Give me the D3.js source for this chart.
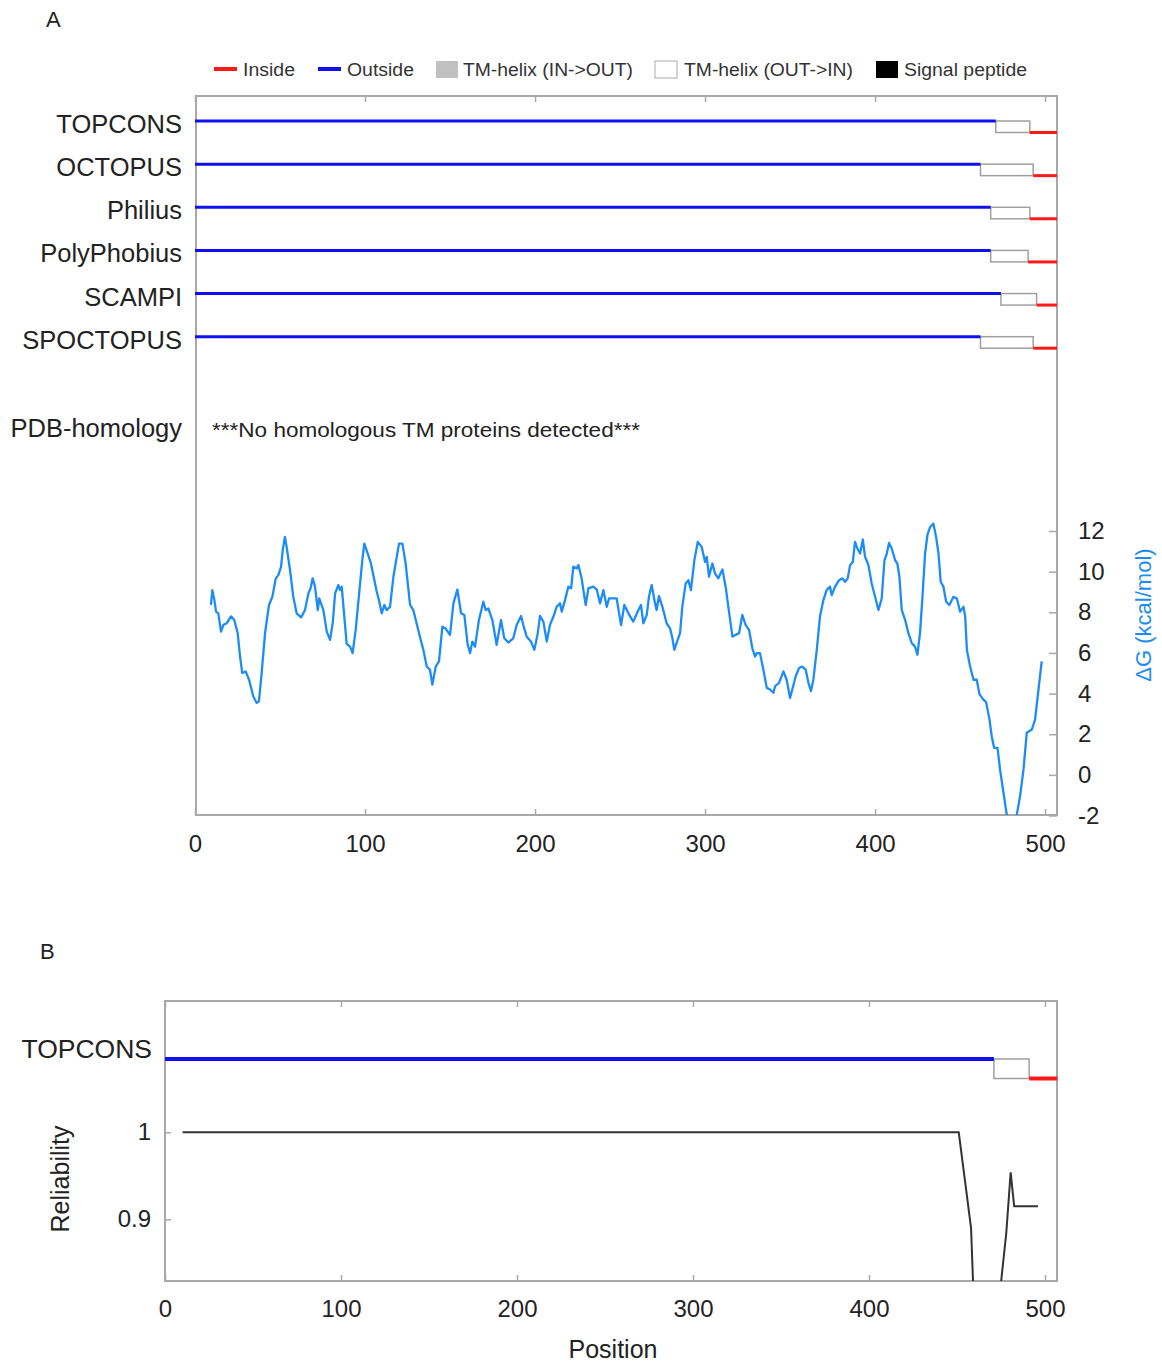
<!DOCTYPE html>
<html>
<head>
<meta charset="utf-8">
<script src="https://cdn.jsdelivr.net/npm/d3@7"></script>
<style>
  body { margin: 0; background: #fff; }
  svg text { font-family: "Liberation Sans", Arial, sans-serif; fill: #222; }
  .frame { fill: none; stroke: #a8a8a8; stroke-width: 2; }
  .tick line { stroke: #a8a8a8; stroke-width: 1.5; }
  .domain { display: none; }
</style>
</head>
<body>
<div id="chart"></div>
<script>
// ---- data
var seqLength = 507;
var methods = ['TOPCONS', 'OCTOPUS', 'Philius', 'PolyPhobius', 'SCAMPI', 'SPOCTOPUS'];
var tmStart = [471, 462, 468, 468, 474, 462];
var tmEnd = [491, 493, 491, 490, 495, 493];

var legendLabels = ['Inside', 'Outside', 'TM-helix (IN->OUT)', 'TM-helix (OUT->IN)', 'Signal peptide'];

var xTicks = [0, 100, 200, 300, 400, 500];
var dgTicks = [-2, 0, 2, 4, 6, 8, 10, 12];
var relTicks = [0.9, 1];

var dgPos = [9.4, 10.2, 11.4, 12.4, 13.7, 15.3, 16.7, 18.6, 21.2, 23.1, 25.1, 26.5, 27.8, 29.8, 31.8, 34.3, 36.3, 37.6, 39.2, 41.2,
  43.5, 45.5, 47.5, 49, 50.6, 51.6, 52.9, 53.9, 55.9, 57.8, 59.8, 62.4, 64.7, 66.7, 68, 69.2, 70.6, 72.2, 73.1, 75.5,
  77.5, 79.4, 81, 82.4, 84.3, 85.3, 86.3, 87.8, 89.2, 91.2, 92.7, 94.5, 97.1, 98.4, 99.6, 101.6, 103.5, 105.5, 106.9, 108.2,
  109.8, 111.4, 112.7, 114.7, 116.7, 118, 120, 122, 123.9, 126.5, 128.4, 132.3, 134.3, 136.3, 138.2, 139.6, 141.6, 143.5, 145.5, 147.4,
  150, 152, 154.3, 156.5, 158.4, 160.4, 161.8, 163.1, 164.7, 167, 169.6, 171, 172.5, 174.9, 177.4, 180, 181.9, 184.3, 187.2, 189.2,
  191.8, 193.1, 195.1, 197.6, 199.6, 201.6, 202.9, 204.9, 206.9, 208.8, 210.8, 212.7, 214.7, 215.7, 217.6, 219.6, 221.2, 222.5, 224.5, 225.5,
  227.4, 229.8, 231.4, 234.3, 236.3, 238.2, 240.2, 242.2, 243.5, 245.5, 248, 250.6, 252.5, 254.9, 257.8, 260.8, 262.3, 263.7, 265.7, 267,
  268.6, 270.2, 271.5, 272.9, 274.9, 277.4, 279.4, 280.8, 281.9, 283.9, 285.3, 286.6, 288.6, 290.2, 291.7, 293.7, 295.7, 298, 300, 301,
  302.3, 304.3, 305.9, 307.8, 310.2, 312.1, 313.7, 316.1, 318, 320, 321.9, 323.9, 325.9, 327.8, 329.4, 330.4, 332.3, 334.3, 336.3, 338.2,
  340.2, 341.2, 343.5, 346.1, 348, 350, 351.3, 353.3, 355.3, 357.2, 359.2, 360.8, 362.3, 363.7, 365.7, 367.6, 369.6, 371.5, 373.5, 374.5,
  376.5, 378.8, 380.8, 382.3, 383.9, 385.3, 386.9, 388.2, 389.6, 391.2, 392.8, 394.1, 396.1, 398, 400, 402, 403.9, 405.5, 406.9, 408.2,
  409.8, 411.8, 413.1, 414.3, 415.7, 417.7, 419.6, 421.6, 423.5, 424.9, 426.5, 428, 429.4, 430.8, 432.4, 434.3, 435.9, 437.3, 438.6, 440.2,
  441.8, 443.7, 446.1, 448.1, 450, 452, 453, 454, 455.9, 457.9, 459.8, 461.4, 463.7, 465.3, 467.3, 468.6, 470, 472, 473.5, 475.5,
  477.5, 480, 483.3, 485.3, 487.3, 489.2, 492.2, 494.1, 496.1, 498];
var dgVal = [8.36, 9.09, 8.6, 8.03, 7.95, 7.05, 7.38, 7.46, 7.8, 7.62, 6.97, 5.82, 5.01, 5.09, 4.68, 3.86, 3.54, 3.62, 5.01, 6.97,
  8.36, 8.76, 9.67, 9.83, 10.24, 11.06, 11.71, 11.22, 10.07, 8.76, 7.95, 7.75, 8.11, 8.93, 9.18, 9.67, 9.26, 8.11, 8.68, 8.11,
  7.05, 6.64, 7.46, 8.93, 9.34, 9.09, 9.26, 7.8, 6.45, 6.31, 5.99, 7.13, 9.42, 10.56, 11.38, 10.89, 10.4, 9.58, 9.01, 8.6,
  7.95, 8.36, 8.11, 8.27, 9.75, 10.4, 11.38, 11.38, 10.4, 8.36, 8.11, 6.8, 6.15, 5.33, 5.17, 4.44, 5.33, 5.58, 7.29, 7.2,
  6.89, 8.44, 9.12, 7.95, 7.87, 6.4, 5.99, 6.56, 6.31, 7.62, 8.52, 8.11, 8.19, 7.62, 6.4, 7.62, 6.72, 6.51, 6.72, 7.37,
  7.82, 7.37, 6.8, 6.56, 6.15, 6.97, 7.82, 7.54, 6.56, 7.38, 7.79, 8.27, 8.44, 8.03, 8.6, 9.26, 9.18, 10.24, 10.16, 10.32,
  9.67, 8.36, 9.18, 9.26, 9.12, 8.44, 9.09, 8.27, 8.68, 8.68, 8.68, 7.37, 8.36, 7.95, 7.54, 8.11, 8.36, 7.46, 7.87, 8.76,
  9.34, 8.6, 8.11, 8.8, 8.27, 7.46, 7.21, 6.72, 6.15, 6.64, 6.97, 8.27, 9.42, 9.58, 9.09, 10.56, 11.46, 11.22, 10.48, 10.73,
  9.75, 10.4, 9.9, 9.67, 10.11, 9.26, 8.27, 6.8, 6.89, 6.97, 7.87, 7.37, 7.13, 6.23, 5.82, 5.99, 5.99, 5.17, 4.28, 4.2,
  4.04, 4.36, 4.53, 5.09, 4.68, 3.78, 4.2, 4.85, 5.26, 5.33, 5.17, 4.53, 4.12, 4.68, 6.15, 7.79, 8.6, 9.09, 9.26, 8.85,
  9.26, 9.58, 9.67, 9.5, 9.67, 10.32, 10.48, 11.46, 11.14, 10.89, 11.58, 10.73, 10.32, 9.42, 8.76, 8.11, 8.68, 10.56, 10.89, 11.41,
  11.14, 10.56, 10.4, 9.75, 8.11, 7.62, 6.97, 6.48, 6.31, 5.91, 7.05, 8.93, 10.89, 11.81, 12.2, 12.36, 11.71, 10.89, 9.5, 9.26,
  8.52, 8.36, 8.76, 8.68, 8.03, 8.27, 7.79, 6.15, 5.33, 4.68, 4.68, 3.97, 3.7, 3.58, 2.72, 1.9, 1.33, 1.33, 0.27, -0.87,
  -1.99, -3.2, -1.99, -1.03, 0.27, 2.07, 2.23, 2.72, 4.2, 5.58];

var relPos = [10, 451, 458, 460, 466, 472, 478, 480.5, 482.5, 496];
var relVal = [1, 1, 0.89, 0.78, 0.72, 0.77, 0.884, 0.954, 0.915, 0.915];

// ---- colours
var cInside = '#ff1a1a', cOutside = '#1010ee', cDG = '#1e8cf5', cBox = '#a0a0a0';

var svg = d3.select('#chart').append('svg')
  .attr('width', 1162).attr('height', 1363);
svg.append('rect').attr('width', 1162).attr('height', 1363).attr('fill', '#fff');

//--- PANEL LETTERS
svg.append('text').attr('x', 46).attr('y', 27).style('font-size', '22px').text('A');
svg.append('text').attr('x', 40).attr('y', 959).style('font-size', '22px').text('B');

//--- LEGEND
var legendX = [214, 318, 436, 655, 876];
var legend = svg.append('g').attr('class', 'legend');
legendLabels.forEach(function(label, i) {
  var x0 = legendX[i];
  if (i < 2) {
    legend.append('line')
      .attr('x1', x0).attr('x2', x0 + 23).attr('y1', 69).attr('y2', 69)
      .attr('stroke', i === 0 ? cInside : cOutside).attr('stroke-width', 4);
  } else {
    legend.append('rect')
      .attr('x', x0).attr('y', 61).attr('width', 22).attr('height', 17)
      .attr('fill', i === 2 ? '#c0c0c0' : (i === 3 ? '#fff' : '#000'))
      .attr('stroke', i === 3 ? '#aaa' : 'none').attr('stroke-width', 1);
  }
});
var legendTextX = [243, 347, 463, 684, 904];
var legendTextW = [52, 67, 170, 169, 123];
legendLabels.forEach(function(label, i) {
  legend.append('text')
    .attr('x', legendTextX[i]).attr('y', 76)
    .attr('textLength', legendTextW[i]).attr('lengthAdjust', 'spacingAndGlyphs')
    .style('font-size', '18px').style('fill', '#333')
    .text(label);
});

/* -----------------------
    PANEL A
 -------------------------- */
var xA = d3.scaleLinear().domain([0, seqLength]).range([195, 1057]);
var yDG = d3.scaleLinear().domain([-2, 12]).range([815.5, 531]);
var yTrack = d3.scalePoint().domain(methods).range([121, 336.7]);
var boxA = 11.5;

var frameA = { x: 196, y: 96, w: 861, h: 719 };

svg.append('clipPath').attr('id', 'clipA')
  .append('rect').attr('x', frameA.x).attr('y', frameA.y).attr('width', frameA.w).attr('height', frameA.h);

//--- TOP / BOTTOM TICKS
svg.append('g')
  .attr('transform', 'translate(0,' + (frameA.y + frameA.h) + ')')
  .call(d3.axisBottom(xA).tickValues(xTicks).tickSizeInner(-6).tickSizeOuter(0).tickPadding(19.5))
  .call(function(g) { g.selectAll('text').style('font-size', '24px').style('fill', '#222'); });

svg.append('g')
  .attr('transform', 'translate(0,' + frameA.y + ')')
  .call(d3.axisTop(xA).tickValues(xTicks).tickSizeInner(-6).tickSizeOuter(0).tickFormat(''));

//--- RIGHT AXIS (delta G), plain hyphen for the minus sign
svg.append('g')
  .attr('transform', 'translate(' + (frameA.x + frameA.w) + ',0)')
  .call(d3.axisRight(yDG).tickValues(dgTicks).tickSizeInner(-8).tickSizeOuter(0).tickPadding(21)
    .tickFormat(function(d) { return String(d); }))
  .call(function(g) { g.selectAll('text').style('font-size', '24px').style('fill', '#222'); });

svg.append('rect').attr('class', 'frame')
  .attr('x', frameA.x).attr('y', frameA.y).attr('width', frameA.w).attr('height', frameA.h);

svg.append('text')
  .attr('transform', 'translate(1151,615) rotate(-90)')
  .attr('text-anchor', 'middle')
  .style('font-size', '22px').style('fill', cDG)
  .text('\u0394G (kcal/mol)');

//--- TRACKS
var tracks = svg.append('g').attr('class', 'tracks');
methods.forEach(function(m, i) {
  var y0 = yTrack(m);
  tracks.append('text')
    .attr('x', 182).attr('y', y0 + 12)
    .attr('text-anchor', 'end')
    .style('font-size', '25.5px')
    .text(m);
  tracks.append('rect')
    .attr('x', xA(tmStart[i])).attr('y', y0)
    .attr('width', xA(tmEnd[i]) - xA(tmStart[i])).attr('height', boxA)
    .attr('fill', '#fff').attr('stroke', cBox).attr('stroke-width', 1.5);
  tracks.append('line')
    .attr('x1', xA(0)).attr('x2', xA(tmStart[i]))
    .attr('y1', y0).attr('y2', y0)
    .attr('stroke', cOutside).attr('stroke-width', 3);
  tracks.append('line')
    .attr('x1', xA(tmEnd[i])).attr('x2', xA(seqLength))
    .attr('y1', y0 + boxA).attr('y2', y0 + boxA)
    .attr('stroke', cInside).attr('stroke-width', 3);
});

svg.append('text')
  .attr('x', 182).attr('y', 437)
  .attr('text-anchor', 'end')
  .style('font-size', '25.5px')
  .text('PDB-homology');

svg.append('text')
  .attr('x', 212).attr('y', 437)
  .attr('textLength', 428).attr('lengthAdjust', 'spacingAndGlyphs')
  .style('font-size', '20px')
  .text('***No homologous TM proteins detected***');

//--- DELTA G CURVE
var dgData = dgPos.map(function(p, i) { return { pos: p, val: dgVal[i] }; });
var lineDG = d3.line()
  .x(function(d) { return xA(d.pos); })
  .y(function(d) { return yDG(d.val); });

svg.append('path')
  .datum(dgData)
  .attr('clip-path', 'url(#clipA)')
  .attr('d', lineDG)
  .attr('fill', 'none')
  .attr('stroke', cDG)
  .attr('stroke-width', 2.3)
  .attr('stroke-linejoin', 'round');

/* -----------------------
    PANEL B
 -------------------------- */
var xB = d3.scaleLinear().domain([0, seqLength]).range([165, 1057.3]);
var yRel = d3.scaleLinear().domain([0.9, 1]).range([1219.3, 1132.3]);
var frameB = { x: 165, y: 1001, w: 892, h: 280 };
var trackB = { y: 1059, h: 19.5 };

svg.append('clipPath').attr('id', 'clipB')
  .append('rect').attr('x', frameB.x).attr('y', frameB.y).attr('width', frameB.w).attr('height', frameB.h);

svg.append('g')
  .attr('transform', 'translate(0,' + (frameB.y + frameB.h) + ')')
  .call(d3.axisBottom(xB).tickValues(xTicks).tickSizeInner(-6).tickSizeOuter(0).tickPadding(18.5))
  .call(function(g) { g.selectAll('text').style('font-size', '24px').style('fill', '#222'); });

svg.append('g')
  .attr('transform', 'translate(0,' + frameB.y + ')')
  .call(d3.axisTop(xB).tickValues(xTicks).tickSizeInner(-6).tickSizeOuter(0).tickFormat(''));

svg.append('g')
  .attr('transform', 'translate(' + frameB.x + ',0)')
  .call(d3.axisLeft(yRel).tickValues(relTicks).tickSizeInner(-6).tickSizeOuter(0).tickPadding(14)
    .tickFormat(function(d) { return d === 1 ? '1' : d3.format('.1f')(d); }))
  .call(function(g) { g.selectAll('text').style('font-size', '24px').style('fill', '#222'); });

svg.append('rect').attr('class', 'frame')
  .attr('x', frameB.x).attr('y', frameB.y).attr('width', frameB.w).attr('height', frameB.h);

svg.append('text')
  .attr('x', 152).attr('y', 1058)
  .attr('text-anchor', 'end')
  .style('font-size', '26.5px')
  .text('TOPCONS');

svg.append('rect')
  .attr('x', xB(tmStart[0])).attr('y', trackB.y)
  .attr('width', xB(tmEnd[0]) - xB(tmStart[0])).attr('height', trackB.h)
  .attr('fill', '#fff').attr('stroke', cBox).attr('stroke-width', 1.5);
svg.append('line')
  .attr('x1', xB(0)).attr('x2', xB(tmStart[0]))
  .attr('y1', trackB.y).attr('y2', trackB.y)
  .attr('stroke', cOutside).attr('stroke-width', 4);
svg.append('line')
  .attr('x1', xB(tmEnd[0])).attr('x2', xB(seqLength))
  .attr('y1', trackB.y + trackB.h).attr('y2', trackB.y + trackB.h)
  .attr('stroke', cInside).attr('stroke-width', 4);

var relData = relPos.map(function(p, i) { return { pos: p, val: relVal[i] }; });
svg.append('path')
  .datum(relData)
  .attr('clip-path', 'url(#clipB)')
  .attr('d', d3.line()
    .x(function(d) { return xB(d.pos); })
    .y(function(d) { return yRel(d.val); }))
  .attr('fill', 'none')
  .attr('stroke', '#333')
  .attr('stroke-width', 2);

svg.append('text')
  .attr('transform', 'translate(69,1179) rotate(-90)')
  .attr('text-anchor', 'middle')
  .style('font-size', '25px')
  .text('Reliability');

svg.append('text')
  .attr('x', 613).attr('y', 1358)
  .attr('text-anchor', 'middle')
  .style('font-size', '25px')
  .text('Position');
</script>
</body>
</html>
